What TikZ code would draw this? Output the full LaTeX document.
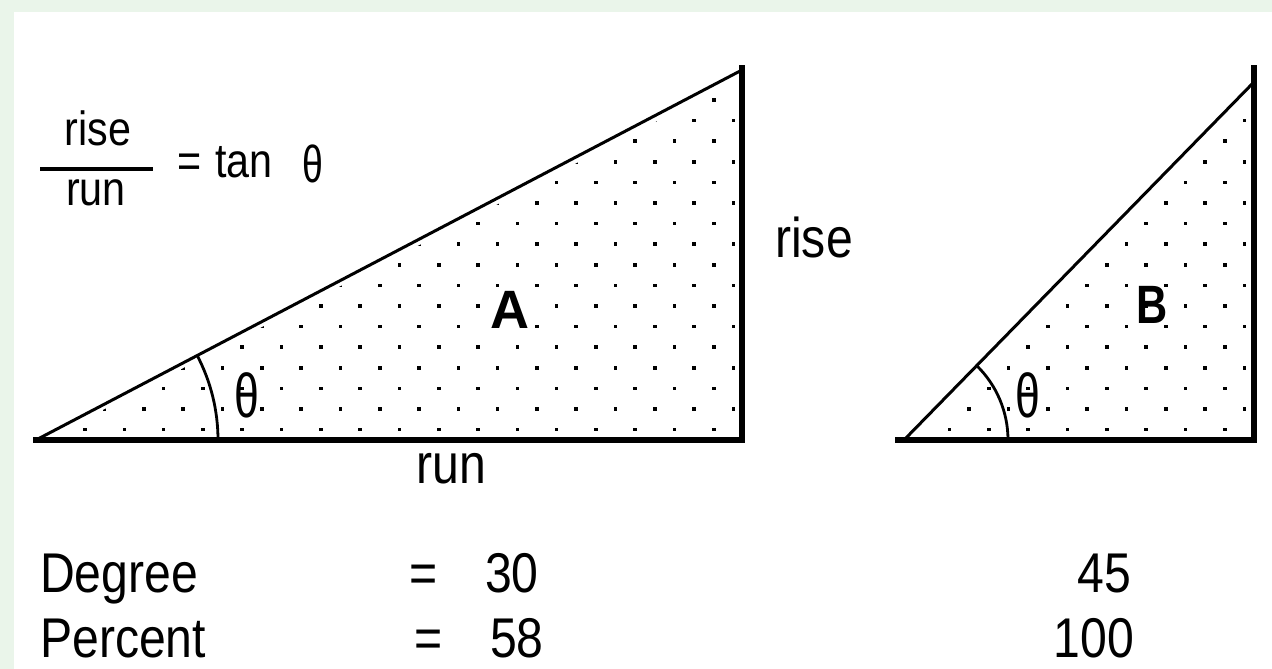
\documentclass[tikz,border=0pt]{standalone}
\usepackage{fontspec}
\setmainfont{Liberation Sans}
\newcommand{\nrw}[1]{\scalebox{0.86}[1]{#1}}
\newcommand{\nrth}[1]{\scalebox{0.72}[1]{#1}}
\definecolor{framegreen}{RGB}{234,245,234}
\tikzset{
  txt/.style={inner sep=0pt, anchor=base, font=\fontsize{56}{60}\selectfont},
  fractxt/.style={inner sep=0pt, anchor=base, font=\fontsize{48}{52}\selectfont},
  bigbold/.style={inner sep=0pt, anchor=base, font=\fontsize{54}{58}\selectfont\bfseries},
  thicksides/.style={line width=5.5pt, line cap=rect},
  hypline/.style={line width=3pt, line cap=round},
  arcline/.style={line width=2.8pt},
  dotmark/.style={fill=black}
}
\begin{document}
\begin{tikzpicture}[x=1pt,y=-1pt]
\useasboundingbox (0,0) rectangle (1272,669);
\fill[framegreen] (0,0) rectangle (1272,669);
\fill[white] (14,12) rectangle (1272,669);

% ---------- triangle A ----------
\coordinate (A0) at (36,440);
\coordinate (A1) at (742,440);
\coordinate (A2) at (742,68);
\coordinate (Ah) at (742,70);
\begin{scope}
  \clip (53,436) -- (742,77) -- (739,436) -- cycle;
  \foreach \k in {0,...,16}{
    \pgfmathsetmacro{\yy}{100+20.6*\k}
    \pgfmathsetmacro{\xo}{mod(\k,2)==0 ? 85 : 104.65}
    \foreach \j in {0,...,30}{
      \fill[dotmark] ({\xo+39.3*\j-1.8},{\yy-1.8}) rectangle ++(3.6,3.6);
    }
  }
\end{scope}
\draw[thicksides] (A0) -- (A1) -- (A2);
\draw[hypline] (A0) -- (Ah);
\draw[arcline] (218,440) arc[start angle=0, end angle=-27.66, radius=182];

% ---------- triangle B ----------
\coordinate (Bs) at (898,440);
\coordinate (B0) at (904,440);
\coordinate (B1) at (1254,440);
\coordinate (B2) at (1254,68);
\coordinate (Bh) at (1254,82);
\begin{scope}
  \clip (912,436) -- (1254,86) -- (1251,436) -- cycle;
  \foreach \k in {0,...,16}{
    \pgfmathsetmacro{\yy}{100+20.6*\k}
    \pgfmathsetmacro{\xo}{mod(\k,2)==0 ? 85 : 104.65}
    \foreach \j in {0,...,30}{
      \fill[dotmark] ({\xo+39.3*\j-1.8},{\yy-1.8}) rectangle ++(3.6,3.6);
    }
  }
\end{scope}
\draw[thicksides] (Bs) -- (B1) -- (B2);
\draw[hypline] (B0) -- (Bh);
\draw[arcline] (1008,440) arc[start angle=0, end angle=-45.6, radius=104];

% ---------- labels ----------
\node[bigbold] (labA) at (510,328) {A};
\node[bigbold] (labB) at (1152,323) {\scalebox{0.8}[1]{B}};
\node[txt, font=\fontsize{62}{66}\selectfont] (thA) at (247,417) {\nrth{θ}};
\node[txt, font=\fontsize{62}{66}\selectfont] (thB) at (1028,417) {\nrth{θ}};
\node[txt, anchor=base west] (riseR) at (775,257) {\nrw{rise}};
\node[txt] (runB) at (451,483) {\nrw{run}};

% formula
\node[fractxt] (frN) at (98,145) {\nrw{rise}};
\node[fractxt] (frD) at (96,205) {\nrw{run}};
\draw[line width=4pt] (40,169) -- (153,169);
\node[fractxt] (feq) at (190,177) {\nrw{=}};
\node[fractxt, anchor=base west] (ftan) at (215,177) {\nrw{tan}};
\node[fractxt, font=\fontsize{52}{56}\selectfont] (fth) at (313,182) {\nrth{θ}};

% table
\node[txt, anchor=base west] (deg) at (40,592) {\nrw{Degree}};
\node[txt, anchor=base west] (pct) at (40,657) {\nrw{Percent}};
\node[txt] (eq1) at (424,592) {\nrw{=}};
\node[txt] (eq2) at (429,657) {\nrw{=}};
\node[txt, anchor=base west] (v30) at (485,592) {\nrw{30}};
\node[txt, anchor=base west] (v58) at (490,657) {\nrw{58}};
\node[txt, anchor=base east] (v45) at (1131,592) {\nrw{45}};
\node[txt, anchor=base east] (v100) at (1134,657) {\nrw{100}};
\end{tikzpicture}
\end{document}
